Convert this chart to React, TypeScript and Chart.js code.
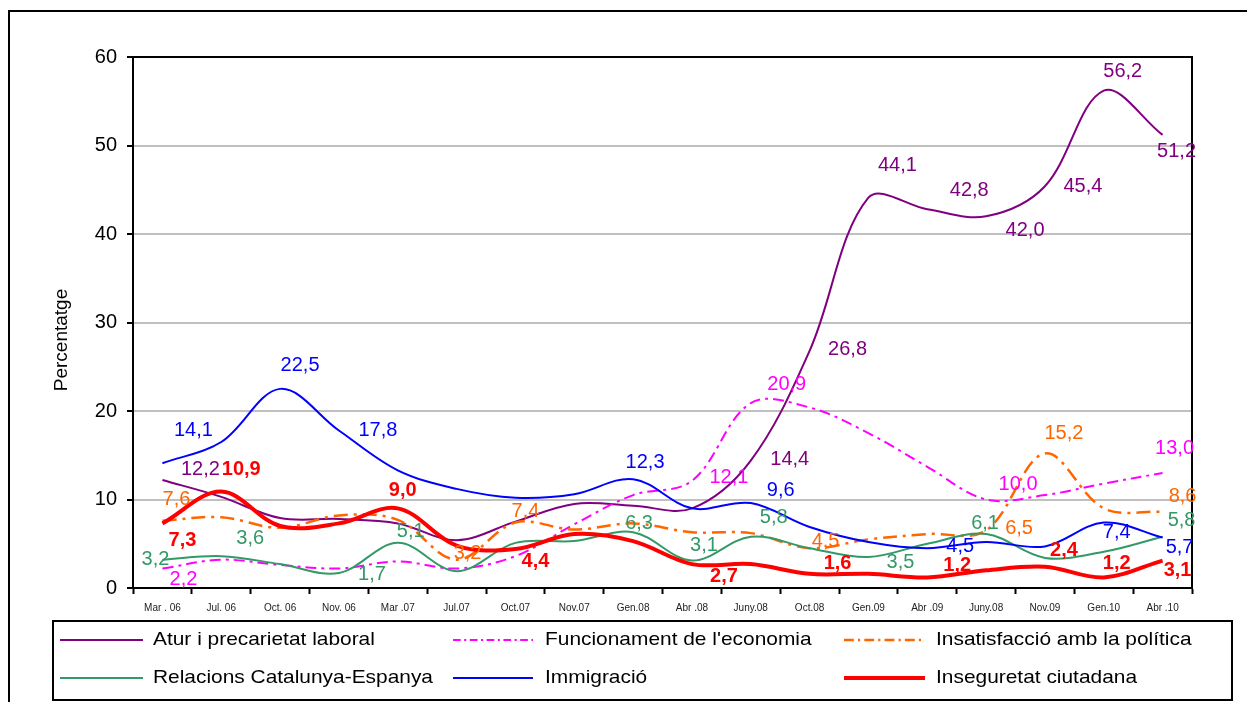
import React, { useEffect, useRef } from "react";
import { Chart, registerables } from "chart.js";

Chart.register(...registerables);

const FONT = "'Liberation Sans', Arial, Helvetica, sans-serif";

// ---------- data ----------
const categories = [
  "Mar . 06", "Jul. 06", "Oct. 06", "Nov. 06", "Mar .07", "Jul.07", "Oct.07", "Nov.07", "Gen.08",
  "Abr .08", "Juny.08", "Oct.08", "Gen.09", "Abr .09", "Juny.08", "Nov.09", "Gen.10", "Abr .10",
];

const seriesNames = [
  "Atur i precarietat laboral",
  "Funcionament de l'economia",
  "Insatisfacció amb la política",
  "Relacions Catalunya-Espanya",
  "Immigració",
  "Inseguretat ciutadana",
];

const atur = [12.2, 10.3, 7.9, 7.8, 7.3, 5.4, 7.5, 9.5, 9.3, 9.0, 14.4, 26.8, 44.1, 42.8, 42.0, 45.4, 56.2, 51.2];
const funcionament = [2.2, 3.2, 2.6, 2.2, 3.0, 2.2, 3.6, 7.2, 10.5, 12.1, 20.9, 20.4, 17.5, 13.7, 10.0, 10.5, 11.8, 13.0];
const insatisfaccio = [7.6, 8.0, 6.8, 8.2, 7.7, 3.2, 7.4, 6.6, 7.3, 6.3, 6.2, 4.5, 5.5, 6.1, 6.5, 15.2, 9.0, 8.6];
const relacions = [3.2, 3.6, 2.7, 1.7, 5.1, 1.9, 5.1, 5.3, 6.3, 3.1, 5.8, 4.5, 3.5, 5.0, 6.1, 3.4, 4.1, 5.8];
const immigracio = [14.1, 16.5, 22.5, 17.8, 13.3, 11.2, 10.2, 10.6, 12.3, 9.0, 9.6, 6.9, 5.2, 4.5, 5.2, 4.7, 7.4, 5.7];
const inseguretat = [7.3, 10.9, 7.0, 7.3, 9.0, 4.8, 4.4, 6.1, 5.3, 2.7, 2.7, 1.6, 1.6, 1.2, 2.0, 2.4, 1.2, 3.1];

const yTicks = [0, 10, 20, 30, 40, 50, 60];

// which points carry a value label: [category index, dx, dy] (layout only)
const aturLabels = [[0, 38, -11], [10, 39, -1], [11, 38, -1], [12, 29, -32], [13, 42, -19], [14, 39, 14], [15, 38, 0], [16, 19, -19], [17, 14, 17]];
const funcionamentLabels = [[0, 21, 11], [9, 37, -3], [10, 36, -19], [14, 32, -15], [17, 12, -24]];
const insatisfaccioLabels = [[0, 14, -21], [5, 11, -6], [6, 10, -11], [11, 16, -7], [14, 33, -2], [15, 19, -20], [17, 20, -15]];
const relacionsLabels = [[0, -7, 0], [1, 29, -18], [3, 33, 2], [4, 13, -11], [8, 6, -9], [9, 12, -15], [10, 23, -19], [12, 32, 5], [14, -1, -11], [17, 19, -16]];
const immigracioLabels = [[0, 31, -33], [2, 20, -23], [3, 39, 0], [8, 12, -17], [10, 30, -13], [13, 33, -2], [16, 13, 10], [17, 17, 10]];
const inseguretatLabels = [[0, 20, 17], [1, 20, -22], [4, 5, -18], [6, 20, 12], [9, 32, 12], [11, 28, -10], [13, 30, -12], [15, 19, -16], [16, 13, -14], [17, 15, 10]];

// ---------- styles ----------
const styles = [
  { color: "#800080", width: 2, dash: [] as number[], bold: false, labels: aturLabels, data: atur },
  { color: "#FF00FF", width: 2, dash: [11, 5, 3, 5], bold: false, labels: funcionamentLabels, data: funcionament },
  { color: "#FF6600", width: 2.5, dash: [14, 6, 3, 6], bold: false, labels: insatisfaccioLabels, data: insatisfaccio },
  { color: "#339966", width: 2, dash: [] as number[], bold: false, labels: relacionsLabels, data: relacions },
  { color: "#0000FF", width: 2, dash: [] as number[], bold: false, labels: immigracioLabels, data: immigracio },
  { color: "#FF0000", width: 4, dash: [] as number[], bold: true, labels: inseguretatLabels, data: inseguretat },
];

const W = 1247;
const H = 702;
const AREA = { left: 133, top: 57, right: 1192, bottom: 588 };

const fmt = (v: number) => v.toFixed(1).replace(".", ",");

const decorPlugin = {
  id: "decor",
  beforeDraw(chart: any) {
    const ctx = chart.ctx;
    ctx.save();
    ctx.fillStyle = "#fff";
    ctx.fillRect(0, 0, W, H);
    ctx.strokeStyle = "#000";
    ctx.lineWidth = 2;
    ctx.beginPath();
    ctx.moveTo(9, H + 2);
    ctx.lineTo(9, 11);
    ctx.lineTo(W + 2, 11);
    ctx.stroke();
    // y axis title
    ctx.translate(62, 340);
    ctx.rotate(-Math.PI / 2);
    ctx.fillStyle = "#000";
    ctx.font = `19px ${FONT}`;
    ctx.textAlign = "center";
    ctx.textBaseline = "middle";
    ctx.fillText("Percentatge", 0, 0);
    ctx.restore();
  },
  beforeDatasetsDraw(chart: any) {
    const ctx = chart.ctx;
    const a = chart.chartArea;
    ctx.save();
    ctx.strokeStyle = "#000";
    ctx.lineWidth = 2;
    ctx.beginPath();
    ctx.moveTo(a.left, a.top);
    ctx.lineTo(a.right, a.top);
    ctx.lineTo(a.right, a.bottom);
    ctx.stroke();
    ctx.restore();
  },
  afterDatasetsDraw(chart: any) {
    const ctx = chart.ctx;
    const xs = chart.scales.x;
    const ys = chart.scales.y;
    ctx.save();
    ctx.textAlign = "center";
    ctx.textBaseline = "middle";
    styles.forEach((s) => {
      ctx.fillStyle = s.color;
      ctx.font = `${s.bold ? "bold " : ""}20px ${FONT}`;
      s.labels.forEach(([i, dx, dy]) => {
        const v = s.data[i];
        const px = xs.getPixelForValue(i);
        const py = ys.getPixelForValue(v);
        ctx.fillText(fmt(v), px + dx, py + dy);
      });
    });
    ctx.restore();
  },
  afterDraw(chart: any) {
    const ctx = chart.ctx;
    ctx.save();
    ctx.strokeStyle = "#000";
    ctx.lineWidth = 2;
    ctx.strokeRect(53, 621, 1232 - 53, 700 - 621);
    const cols = [
      { x0: 60, x1: 143, tx: 153 },
      { x0: 453, x1: 533, tx: 545 },
      { x0: 844, x1: 925, tx: 936 },
    ];
    const rows = [640, 678];
    styles.forEach((s, k) => {
      const c = cols[k % 3];
      const y = rows[Math.floor(k / 3)];
      ctx.save();
      ctx.strokeStyle = s.color;
      ctx.lineWidth = s.width;
      ctx.setLineDash(s.dash.length ? s.dash.map((d) => d * 0.7) : []);
      ctx.beginPath();
      ctx.moveTo(c.x0, y);
      ctx.lineTo(c.x1, y);
      ctx.stroke();
      ctx.restore();
      ctx.save();
      ctx.fillStyle = "#000";
      ctx.font = `19px ${FONT}`;
      ctx.textAlign = "left";
      ctx.textBaseline = "middle";
      ctx.translate(c.tx, y);
      ctx.scale(1.1, 1);
      ctx.fillText(seriesNames[k], 0, 0);
      ctx.restore();
    });
    ctx.restore();
  },
};

export default function App() {
  const ref = useRef<HTMLCanvasElement | null>(null);
  useEffect(() => {
    document.body.style.margin = "0";
    const canvas = ref.current;
    if (!canvas) return;
    const chart = new Chart(canvas, {
      type: "line",
      data: {
        labels: categories,
        datasets: styles.map((s, k) => ({
          label: seriesNames[k],
          data: s.data,
          borderColor: s.color,
          backgroundColor: s.color,
          borderWidth: s.width,
          borderDash: s.dash,
          pointRadius: 0,
          tension: 0.35,
          fill: false,
          order: 5 - k,
        })),
      },
      options: {
        responsive: false,
        maintainAspectRatio: false,
        devicePixelRatio: 1,
        animation: false,
        events: [],
        layout: { padding: { left: 0, top: AREA.top, right: W - AREA.right, bottom: 0 } },
        plugins: { legend: { display: false }, tooltip: { enabled: false } },
        scales: {
          x: {
            type: "category",
            offset: true,
            afterFit: (scale: any) => {
              scale.height = H - AREA.bottom;
            },
            grid: {
              offset: true,
              drawOnChartArea: false,
              drawTicks: true,
              tickLength: 6,
              tickColor: "#000",
              tickWidth: 2,
            },
            border: { color: "#000", width: 2 },
            ticks: {
              autoSkip: false,
              maxRotation: 0,
              minRotation: 0,
              padding: 8,
              color: "#222",
              font: { family: FONT, size: 10 },
            },
          },
          y: {
            min: 0,
            max: 60,
            afterFit: (scale: any) => {
              scale.width = AREA.left;
            },
            afterBuildTicks: (scale: any) => {
              scale.ticks = yTicks.map((v) => ({ value: v }));
            },
            grid: {
              color: (c: any) =>
                c.tick && (c.tick.value === 0 || c.tick.value === 60) ? "rgba(0,0,0,0)" : "#c0c0c0",
              lineWidth: 2,
              drawTicks: true,
              tickLength: 6,
              tickColor: "#000",
              tickWidth: 2,
            },
            border: { color: "#000", width: 2 },
            ticks: {
              padding: 10,
              color: "#000",
              font: { family: FONT, size: 20 },
            },
          },
        },
      },
      plugins: [decorPlugin],
    });
    return () => chart.destroy();
  }, []);
  return (
    <div style={{ position: "fixed", left: 0, top: 0, width: W, height: H, background: "#fff" }}>
      <canvas ref={ref} width={W} height={H} style={{ display: "block", width: W, height: H }} />
    </div>
  );
}
